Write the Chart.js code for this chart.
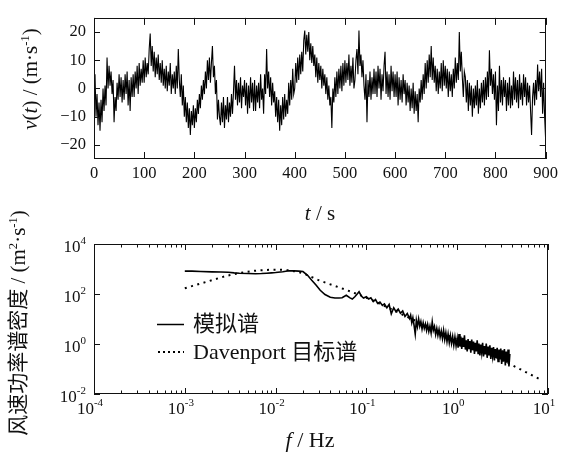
<!DOCTYPE html>
<html>
<head>
<meta charset="utf-8">
<script src="https://cdn.jsdelivr.net/npm/chart.js@4.4.0/dist/chart.umd.min.js"></script>
<style>
  html, body { margin: 0; padding: 0; background: #fff; }
  #wrap { position: relative; width: 563px; height: 461px; overflow: hidden; color: #111;
          font-family: 'Liberation Serif', 'Times New Roman', 'Noto Sans CJK SC', serif; }
  canvas { position: absolute; left: 0; }
  .lbl { position: absolute; white-space: nowrap; line-height: 1; transform: translate(-50%, -50%); }
  .rot { transform: translate(-50%, -50%) rotate(-90deg); }
  .leg { position: absolute; white-space: nowrap; line-height: 1; transform: translate(0, -50%); font-size: 22px; }
  sup { font-size: 0.6em; vertical-align: 0; position: relative; top: -0.6em; }
</style>
</head>
<body>
<div id="wrap">
  <canvas id="c1" width="563" height="230" style="top:0"></canvas>
  <canvas id="c2" width="563" height="231" style="top:230px"></canvas>

  <div class="lbl rot" style="left:30px;top:79px;font-size:21px"><i>v</i>(<i>t</i>) / (m·s<sup>-1</sup>)</div>
  <div class="lbl" style="left:320px;top:213px;font-size:21px"><i>t</i> / s</div>
  <div class="lbl rot" style="left:18px;top:323px;font-size:21px">风速功率谱密度 / (m<sup>2</sup>·s<sup>-1</sup>)</div>
  <div class="lbl" style="left:310px;top:440px;font-size:22px"><i>f</i> / Hz</div>

  <svg style="position:absolute;left:157px;top:316px" width="30" height="42">
    <line x1="0" y1="8.5" x2="27" y2="8.5" stroke="#000" stroke-width="1.5"/>
    <line x1="1" y1="36" x2="27" y2="36" stroke="#000" stroke-width="2" stroke-dasharray="2 3"/>
  </svg>
  <div class="leg" style="left:193px;top:324px">模拟谱</div>
  <div class="leg" style="left:193px;top:352px">Davenport 目标谱</div>
</div>

<script>
// 风速时程，每 dt 秒一个读数 (m/s)
const dt = 2;
const speed = [
  -3, 5, -10, -2, -13, -5, -15, -4, -12, 0,
  -8, 1, -6, 11, 0, 8, 1, 6, -2, 3,
  -12, -3, -8, 2, -4, 5, -3, 4, -5, 3,
  -4, 5, -2, 6, -6, 3, -8, 4, -3, 5,
  -3, 6, 0, 8, -2, 9, 1, 7, 2, 10,
  2, 11, 4, 9, 5, 14, 19.5, 8, 15, 6,
  13, 4, 11, 5, 12, 3, 9, 2, 10, 1,
  7, 0, 8, -1, 6, 1, 9, -2, 5, 0,
  6, -2, 8, 0, 14, 3, -3, 5, -6, 1,
  -10, -3, -12, -5, -14, -7, -16.5, -8, -13, -6,
  -14, -7, -12, -4, -9, -2, -7, 1, -4, 3,
  -2, 6, 0, 10, 3, 11, 2, 9, 15, 4,
  8, -2, 3, -11, -4, -10, -13, -5, -12, -3,
  -14, -6, -11, -3, -12, -5, -10, -2, -9, -1,
  8, -4, 3, -6, 2, -5, 4, -7, 1, -3,
  3, -6, 2, -9, 1, -7, 4, -5, 2, -8,
  3, -8, 1, -5, 2, -7, 5, -4, 0, -9,
  5, -2, 14, 0, 6, -3, 4, -6, 2, -5,
  -1, -10, -3, -12, -4, -15, -6, -13, -3, -11,
  -2, -10, -4, -9, 2, -6, 3, -4, 7, -2,
  0, 9, 2, 11, 3, 12, 5, 13, 6, 17,
  20.5, 12, 19, 13, 20, 10, 16, 9, 15, 8,
  12, 4, 11, 2, 9, 3, 8, 0, 7, 1,
  5, -2, 4, -4, 1, -6, -3, -14, 0, -5,
  4, -3, 6, -2, 7, 0, 8, -1, 9, 1,
  10, 2, 9, 3, 12, 1, 8, 2, 11, 0,
  3, 10, 14, 5, 20.5, 8, 12, 4, 10, 1,
  -4, 5, -12, 3, -3, 6, -4, 4, -2, 7,
  -2, 6, -3, 8, 0, 7, -4, 5, -1, 8,
  13, -2, 6, -3, 5, -4, 8, -1, 6, -3,
  5, -3, 6, -6, 4, -4, 3, -5, 5, -2,
  3, -6, 2, -5, 1, -8, 0, -7, 2, -9,
  -1, -8, -2, -12, 0, -5, 3, -4, 5, -2,
  9, 0, 10, 2, 12, 4, 15, 3, 11, 2,
  8, -1, 7, -2, 6, 0, 9, -1, 10, 1,
  8, 0, 7, -3, 6, -1, 5, -3, 7, 0,
  11, 2, 9, 3, 20, 6, 13, 4, -3, 6,
  4, -5, 3, -8, 2, -6, 1, -10, 0, -7,
  1, -6, 3, -9, 0, -7, 2, -5, 3, -6,
  4, -4, 6, -3, 13.5, 1, 7, -2, 5, -4,
  6, -13, 1, -8, 8, -5, 3, -6, 4, -3,
  3, -8, 2, -6, 4, -7, 1, -6, 6, -4,
  4, -5, 3, -7, 5, -4, 2, -6, 5, -3,
  4, -6, 2, -5, 1, -8, -16.5, -3, 2, -6,
  3, -4, 8.5, -1, 6, -3, 7, -9, 2, -10,
  -18
];
const tTicks = [0, 100, 200, 300, 400, 500, 600, 700, 800, 900];
const vTicks = [-20, -10, 0, 10, 20];

// 模拟谱
const simFreq = [
  0.001, 0.0012, 0.0015, 0.002, 0.0025, 0.003, 0.0035, 0.004, 0.005, 0.006,
  0.007, 0.008, 0.009, 0.01, 0.012, 0.014, 0.016, 0.018, 0.02, 0.0225,
  0.025, 0.028, 0.031, 0.035, 0.04, 0.045, 0.05, 0.054, 0.06, 0.066,
  0.07, 0.075, 0.08, 0.083, 0.088, 0.093,
  0.1, 0.106, 0.112, 0.119, 0.126, 0.133, 0.141, 0.15, 0.158, 0.168,
  0.178, 0.188, 0.2, 0.211, 0.224, 0.237, 0.251, 0.266, 0.282, 0.299,
  0.307, 0.316, 0.325, 0.335, 0.345, 0.355, 0.365, 0.376, 0.387, 0.398,
  0.41, 0.422, 0.434, 0.447, 0.46, 0.473, 0.487, 0.501, 0.516, 0.531,
  0.546, 0.562, 0.579, 0.596, 0.613, 0.631, 0.649, 0.668, 0.688, 0.708,
  0.729, 0.75, 0.772, 0.794, 0.818, 0.841, 0.866, 0.891, 0.917, 0.944,
  0.972, 1.0,
  1.023, 1.047, 1.072, 1.096, 1.122, 1.148, 1.175, 1.202, 1.23, 1.259,
  1.288, 1.318, 1.349, 1.38, 1.413, 1.445, 1.479, 1.514, 1.549, 1.585,
  1.622, 1.66, 1.698, 1.738, 1.778, 1.82, 1.862, 1.905, 1.95, 1.995,
  2.042, 2.089, 2.138, 2.188, 2.239, 2.291, 2.344, 2.399, 2.455, 2.512,
  2.57, 2.63, 2.692, 2.754, 2.818, 2.884, 2.951, 3.02, 3.09, 3.162,
  3.236, 3.311, 3.388, 3.467, 3.548, 3.631, 3.715, 3.802
];
const simPsd = [
  820, 820, 790, 770, 760, 740, 700, 680, 660, 650,
  660, 680, 700, 720, 780, 850, 840, 820, 790, 560,
  355, 224, 141, 95, 74, 69, 69, 71, 89, 70,
  63, 79, 105, 123, 83, 69,
  78, 63, 71, 50, 60, 42, 48, 35, 40, 28,
  38, 16, 28, 20, 25, 17, 21, 12.6, 16.6, 10.5,
  14.1, 7.1, 11.2, 5.6, 2.5, 8.9, 5.0, 10, 5.2, 7.9,
  4.0, 7.1, 4.2, 6.3, 3.5, 6.0, 3.2, 5.2, 2.8, 7.6,
  3.5, 5.0, 2.4, 4.2, 2.2, 3.8, 1.9, 3.3, 1.66, 3.5,
  1.5, 2.8, 1.26, 2.5, 1.12, 2.2, 1.05, 2.0, 0.89, 1.9,
  0.83, 1.66,
  0.71, 2.5, 0.79, 2.0, 0.63, 1.78, 0.76, 2.24, 0.6, 1.41,
  0.5, 1.58, 0.66, 1.32, 0.45, 1.51, 0.56, 1.26, 0.4, 1.12,
  0.5, 1.41, 0.42, 1.05, 0.35, 0.95, 0.45, 1.12, 0.32, 0.83,
  0.38, 1.05, 0.28, 0.79, 0.35, 0.89, 0.25, 0.71, 0.32, 0.76,
  0.22, 0.63, 0.28, 0.71, 0.2, 0.6, 0.24, 0.66, 0.16, 0.56,
  0.2, 0.63, 0.14, 0.5, 0.18, 0.6, 0.126, 0.4
];

// Davenport 目标谱
const davFreq = [0.001, 0.00178, 0.00316, 0.00562, 0.01, 0.0178, 0.0316, 0.0562, 0.1, 0.316, 1, 3.16, 8.0];
const davPsd = [170, 316, 575, 832, 933, 759, 331, 158, 71, 10, 1.48, 0.22, 0.04];

const fExps = [-4, -3, -2, -1, 0, 1];
const sExps = [4, 2, 0, -2];

const SERIF = "'Liberation Serif', 'Times New Roman', serif";
const INK = '#111';

// 刻度朝内 + 边框
const frameTop = {
    id: 'frameTop',
    afterDatasetsDraw(chart) {
        const { ctx, chartArea: a, scales: { x, y } } = chart;
        ctx.save();
        ctx.strokeStyle = INK;
        ctx.lineWidth = 1;
        ctx.beginPath();
        tTicks.forEach(v => {
            const px = Math.round(x.getPixelForValue(v)) + 0.5;
            ctx.moveTo(px, a.bottom); ctx.lineTo(px, a.bottom - 7);
            ctx.moveTo(px, a.top); ctx.lineTo(px, a.top + 7);
        });
        vTicks.forEach(v => {
            const py = Math.round(y.getPixelForValue(v)) + 0.5;
            ctx.moveTo(a.left, py); ctx.lineTo(a.left + 6, py);
            ctx.moveTo(a.right, py); ctx.lineTo(a.right - 6, py);
        });
        ctx.stroke();
        ctx.strokeRect(Math.round(a.left) + 0.5, Math.round(a.top) + 0.5, Math.round(a.width) - 1, Math.round(a.height) - 1);
        ctx.restore();
    }
};

const drawPow = (ctx, exp, x, y, align) => {
    const base = '10', sup = String(exp);
    ctx.font = `17px ${SERIF}`;
    const wb = ctx.measureText(base).width;
    ctx.font = `11px ${SERIF}`;
    const ws = ctx.measureText(sup).width;
    const left = align === 'center' ? x - (wb + ws) / 2 : x - wb - ws;
    ctx.textBaseline = 'middle';
    ctx.textAlign = 'left';
    ctx.fillStyle = INK;
    ctx.font = `17px ${SERIF}`;
    ctx.fillText(base, left, y);
    ctx.font = `11px ${SERIF}`;
    ctx.fillText(sup, left + wb, y - 6.5);
};

const frameLog = {
    id: 'frameLog',
    afterDatasetsDraw(chart) {
        const { ctx, chartArea: a, scales: { x, y } } = chart;
        ctx.save();
        ctx.strokeStyle = INK;
        ctx.lineWidth = 1;
        ctx.beginPath();
        fExps.forEach(e => {
            for (let m = 1; m <= 9; m++) {
                const v = m * Math.pow(10, e);
                if (v > x.max * 1.0001) break;
                const px = Math.round(x.getPixelForValue(v)) + 0.5;
                const len = m === 1 ? 6 : 3.5;
                ctx.moveTo(px, a.bottom); ctx.lineTo(px, a.bottom - len);
                ctx.moveTo(px, a.top); ctx.lineTo(px, a.top + len);
            }
        });
        sExps.forEach(e => {
            const py = Math.round(y.getPixelForValue(Math.pow(10, e))) + 0.5;
            ctx.moveTo(a.left, py); ctx.lineTo(a.left + 6, py);
            ctx.moveTo(a.right, py); ctx.lineTo(a.right - 6, py);
        });
        ctx.stroke();
        ctx.strokeRect(Math.round(a.left) + 0.5, Math.round(a.top) + 0.5, Math.round(a.width) - 1, Math.round(a.height) - 1);

        // 刻度标签 10^n
        fExps.forEach(e => drawPow(ctx, e, x.getPixelForValue(Math.pow(10, e)) - 4, a.bottom + 16, 'center'));
        sExps.forEach(e => drawPow(ctx, e, 86, y.getPixelForValue(Math.pow(10, e)) + 3.5, 'right'));
        ctx.restore();
    }
};

const baseOpts = {
    responsive: false,
    animation: false,
    events: [],
    plugins: { legend: { display: false }, tooltip: { enabled: false } }
};

// 上图：风速时程
new Chart(document.getElementById('c1'), {
    type: 'line',
    data: {
        datasets: [{
            data: speed.map((v, i) => ({ x: i * dt, y: v })),
            borderColor: '#000',
            borderWidth: 1.1,
            pointRadius: 0,
            tension: 0
        }]
    },
    options: {
        ...baseOpts,
        layout: { padding: { top: 9, right: 15, left: 0, bottom: 0 } },
        scales: {
            x: {
                type: 'linear', min: 0, max: 900,
                grid: { display: false, drawTicks: false },
                border: { display: false },
                afterBuildTicks: s => { s.ticks = tTicks.map(v => ({ value: v })); },
                afterFit: s => { s.height = 71; },
                ticks: { padding: 5, color: INK, maxRotation: 0, autoSkip: false, font: { family: SERIF, size: 16.5 } }
            },
            y: {
                type: 'linear', min: -25, max: 25,
                grid: { display: false, drawTicks: false },
                border: { display: false },
                afterBuildTicks: s => { s.ticks = vTicks.map(v => ({ value: v })); },
                afterFit: s => { s.width = 94; },
                ticks: {
                    padding: 8, color: INK, font: { family: SERIF, size: 16.5 },
                    callback: v => String(v).replace('-', '\u2212')
                }
            }
        }
    },
    plugins: [frameTop]
});

// 下图：功率谱
new Chart(document.getElementById('c2'), {
    type: 'line',
    data: {
        datasets: [
            {
                data: simFreq.map((f, i) => ({ x: f, y: simPsd[i] })),
                borderColor: '#000',
                borderWidth: 1.6,
                pointRadius: 0,
                tension: 0
            },
            {
                data: davFreq.map((f, i) => ({ x: f, y: davPsd[i] })),
                borderColor: '#000',
                borderWidth: 2,
                borderDash: [2, 4.5],
                pointRadius: 0,
                cubicInterpolationMode: 'monotone'
            }
        ]
    },
    options: {
        ...baseOpts,
        layout: { padding: { top: 14, right: 15, left: 0, bottom: 0 } },
        scales: {
            x: {
                type: 'logarithmic', min: 1e-4, max: 10,
                grid: { display: false, drawTicks: false },
                border: { display: false },
                ticks: { display: false },
                afterFit: s => { s.height = 67; }
            },
            y: {
                type: 'logarithmic', min: 1e-2, max: 1e4,
                grid: { display: false, drawTicks: false },
                border: { display: false },
                ticks: { display: false },
                afterFit: s => { s.width = 94; }
            }
        }
    },
    plugins: [frameLog]
});
</script>
</body>
</html>
